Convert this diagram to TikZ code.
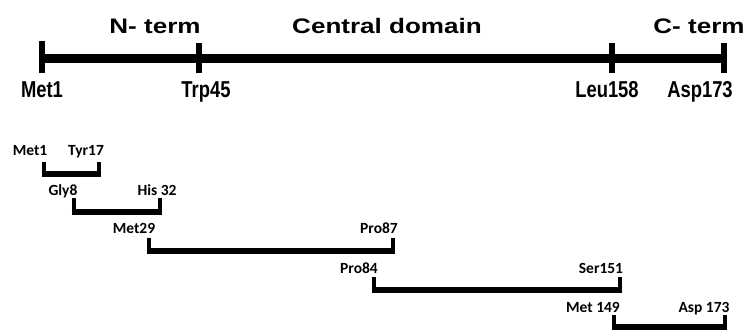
\documentclass[tikz,border=0pt]{standalone}
\usepackage{fontspec}
\newfontfamily\headfont[FakeStretch=1.24]{Liberation Sans}
\newfontfamily\tickfont[FakeStretch=0.8]{Liberation Sans}
\newfontfamily\fragfont{Carlito}
\tikzset{
  head/.style={anchor=base, inner sep=0pt, font=\headfont\bfseries\fontsize{21}{21}\selectfont},
  ticklbl/.style={anchor=base, inner sep=0pt, font=\tickfont\bfseries\fontsize{23}{23}\selectfont},
  fraglbl/.style={anchor=base, inner sep=0pt, font=\fragfont\bfseries\fontsize{15.5}{15.5}\selectfont},
  axisline/.style={line width=9pt, line cap=butt},
  tickmark/.style={line width=6.5pt, line cap=butt},
  fragarm/.style={line width=4.5pt, line cap=butt},
  fragbar/.style={line width=6pt, line cap=butt}
}
\begin{document}
\begin{tikzpicture}[x=1pt,y=-1pt]
\useasboundingbox (0,0) rectangle (748,332);
% main axis
\coordinate (m1) at (42,58);
\coordinate (m45) at (199,58);
\coordinate (m158) at (612,58);
\coordinate (m173) at (724,58);
\draw[axisline] (m1) -- (m173);
\draw[tickmark] ([yshift=17pt]m1) -- ([yshift=-15pt]m1);
\draw[tickmark] ([yshift=15pt]m45) -- ([yshift=-15pt]m45);
\draw[tickmark] ([yshift=15pt]m158) -- ([yshift=-15pt]m158);
\draw[tickmark] ([yshift=15pt]m173) -- ([yshift=-15pt]m173);
% domain labels
\node[head] (nterm) at (155,33) {N- term};
\node[head] (central) at (387,33) {Central domain};
\node[head] (cterm) at (699,33) {C- term};
% residue labels
\node[ticklbl] (lmet1) at (42,97) {Met1};
\node[ticklbl] (ltrp45) at (206,97) {Trp45};
\node[ticklbl] (lleu158) at (607,97) {Leu158};
\node[ticklbl] (lasp173) at (700,97) {Asp173};
% fragments
\foreach \i/\xa/\xb/\yt/\yb in {1/44/99/162/174, 2/74/160/198/212, 3/149/393/238/251, 4/374/620/277/290, 5/614/725/315/327}{
  \coordinate (f\i tl) at (\xa,\yt);
  \coordinate (f\i bl) at (\xa,\yb+3);
  \coordinate (f\i tr) at (\xb,\yt);
  \coordinate (f\i br) at (\xb,\yb+3);
  \coordinate (f\i ml) at (\xa-2.25,\yb);
  \coordinate (f\i mr) at (\xb+2.25,\yb);
  \draw[fragarm] (f\i tl) -- (f\i bl);
  \draw[fragarm] (f\i tr) -- (f\i br);
  \draw[fragbar] (f\i ml) -- (f\i mr);
}
\node[fraglbl] (a1) at (30,155) {Met1};
\node[fraglbl] (b1) at (86,155) {Tyr17};
\node[fraglbl] (a2) at (63,195) {Gly8};
\node[fraglbl] (b2) at (157,195) {His 32};
\node[fraglbl] (a3) at (134,233) {Met29};
\node[fraglbl] (b3) at (379,233) {Pro87};
\node[fraglbl] (a4) at (359,273) {Pro84};
\node[fraglbl] (b4) at (601,273) {Ser151};
\node[fraglbl] (a5) at (593,312) {Met 149};
\node[fraglbl] (b5) at (704,312) {Asp 173};
\end{tikzpicture}
\end{document}
